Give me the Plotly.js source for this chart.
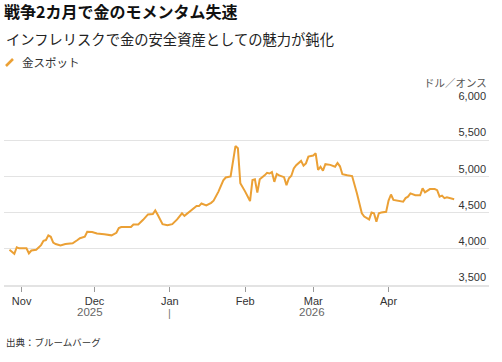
<!DOCTYPE html>
<html>
<head>
<meta charset="utf-8">
<script src="https://cdn.plot.ly/plotly-3.0.1.min.js"></script>
<style>html,body{margin:0;padding:0;background:#fff}#chart{width:502px;height:362px}</style>
</head>
<body>
<div id="chart"></div>
<script>
const titleText = "戦争2カ月で金のモメンタム失速";
const subtitleText = "インフレリスクで金の安全資産としての魅力が鈍化";
const seriesName = "金スポット";
const unitLabel = "ドル／オンス";
const sourceText = "出典：ブルームバーグ";

const dates = [
"2025-10-27","2025-10-29","2025-10-30","2025-10-31","2025-11-03","2025-11-04","2025-11-05","2025-11-07",
"2025-11-09","2025-11-10","2025-11-11","2025-11-12","2025-11-13","2025-11-14","2025-11-15","2025-11-17",
"2025-11-19","2025-11-20","2025-11-22","2025-11-24","2025-11-25","2025-11-27","2025-11-28","2025-11-30",
"2025-12-02","2025-12-05","2025-12-08","2025-12-10","2025-12-11","2025-12-12","2025-12-16","2025-12-17",
"2025-12-19","2025-12-21","2025-12-23","2025-12-25","2025-12-26","2025-12-27","2025-12-29","2025-12-31",
"2026-01-02","2026-01-04","2026-01-06","2026-01-07","2026-01-09","2026-01-12","2026-01-13","2026-01-14",
"2026-01-16","2026-01-18","2026-01-19","2026-01-21","2026-01-23","2026-01-24","2026-01-26","2026-01-28",
"2026-01-29","2026-01-30","2026-02-01","2026-02-03","2026-02-04","2026-02-05","2026-02-06","2026-02-07",
"2026-02-09","2026-02-10","2026-02-11","2026-02-12","2026-02-13","2026-02-14","2026-02-15","2026-02-17",
"2026-02-18","2026-02-19","2026-02-20","2026-02-21","2026-02-22","2026-02-24","2026-02-25","2026-02-26",
"2026-02-27","2026-03-01","2026-03-02","2026-03-03","2026-03-04","2026-03-05","2026-03-06","2026-03-08",
"2026-03-10","2026-03-11","2026-03-12","2026-03-13","2026-03-15","2026-03-17","2026-03-19","2026-03-21",
"2026-03-22","2026-03-24","2026-03-25","2026-03-26","2026-03-27","2026-03-28","2026-03-29","2026-03-31",
"2026-04-01","2026-04-02","2026-04-03","2026-04-05","2026-04-07","2026-04-08","2026-04-09","2026-04-10",
"2026-04-12","2026-04-14","2026-04-15","2026-04-16","2026-04-18","2026-04-20","2026-04-21","2026-04-22",
"2026-04-23","2026-04-24","2026-04-25","2026-04-28"
];
const goldSpot = [
3985,3930,4020,4005,4005,3935,3975,3985,
4050,4110,4120,4185,4165,4085,4065,4045,
4065,4065,4075,4120,4145,4165,4235,4230,
4210,4200,4185,4220,4285,4300,4300,4335,
4335,4400,4475,4480,4530,4470,4340,4325,
4340,4405,4490,4455,4510,4590,4590,4625,
4600,4635,4665,4790,4945,4985,5000,5420,
5390,4905,4790,4660,4950,4960,4775,4960,
5015,5050,5040,5060,4925,5035,5015,4990,
4880,4975,5010,5110,5155,5215,5150,5180,
5275,5290,5320,5090,5135,5080,5170,5160,
5135,5185,5140,5030,5015,5005,4765,4490,
4445,4405,4500,4490,4375,4490,4500,4510,
4665,4750,4675,4665,4650,4700,4720,4765,
4740,4740,4835,4780,4825,4825,4810,4720,
4735,4700,4710,4685
];
const monthTickVals = ["2025-11-01","2025-12-01","2026-01-01","2026-02-01","2026-03-01","2026-04-01"];
const monthTickText = ["Nov","Dec","Jan","Feb","Mar","Apr"];
const yTickVals = [3500,4000,4500,5000,5500,6000];
const yTickText = ["3,500","4,000","4,500","5,000","5,500","6,000"];
const yearLabels = ["2025","2026"];
const yearBoundary = "2026-01-01";

const LINE = "#EBA035";
const FONT = "Liberation Sans, Arial, Noto Sans CJK JP, sans-serif";
const JP = "Noto Sans CJK JP, Liberation Sans, sans-serif";

function mid(a, b) {
  const t = (new Date(a + "T00:00:00Z").getTime() + new Date(b + "T00:00:00Z").getTime()) / 2;
  return new Date(t).toISOString().slice(0, 19).replace("T", " ");
}

const trace = {
  x: dates, y: goldSpot, type: "scatter", mode: "lines", name: seriesName,
  line: {color: LINE, width: 2}, showlegend: false, hoverinfo: "x+y"
};

const layout = {
  width: 502, height: 362,
  margin: {l: 4, r: 13, t: 104, b: 77, pad: 0},
  paper_bgcolor: "#fff", plot_bgcolor: "#fff",
  font: {family: FONT, size: 11, color: "#333"},
  title: {
    text: "<b>" + titleText + "</b>",
    font: {family: JP, size: 16, color: "#111"},
    x: 4 / 502, xref: "container", xanchor: "left",
    y: 1 - 12 / 362, yref: "container", yanchor: "middle"
  },
  xaxis: {
    type: "date",
    range: ["2025-10-24 18:00", "2026-05-12 08:00"],
    tickvals: monthTickVals, ticktext: monthTickText,
    ticks: "outside", ticklen: 5, tickwidth: 1, tickcolor: "#999",
    showgrid: false, zeroline: false,
    showline: true, linecolor: "#e3e3e3", linewidth: 1.5,
    tickfont: {family: FONT, size: 11, color: "#333"},
    fixedrange: true
  },
  yaxis: {
    range: [3498, 6002], side: "right",
    tickvals: yTickVals, ticktext: yTickText,
    ticklabelposition: "inside top", ticklabeloverflow: "allow",
    ticks: "", showgrid: true, gridcolor: "#e3e3e3", gridwidth: 1.5,
    zeroline: false, showline: false,
    tickfont: {family: FONT, size: 11, color: "#333"},
    fixedrange: true
  },
  shapes: [
    {type: "line", xref: "paper", yref: "paper",
     x0: 1 / 485 + 0.002, x1: 8 / 485 + 0.002,
     y0: (285 - 66) / 181, y1: (285 - 59) / 181,
     line: {color: LINE, width: 2.5}}
  ],
  annotations: [
    {text: subtitleText, xref: "paper", yref: "paper", x: 0, xanchor: "left",
     y: (285 - 38) / 181, yanchor: "middle", showarrow: false,
     font: {family: JP, size: 14.3, color: "#222"}},
    {text: seriesName, xref: "paper", yref: "paper", x: 16 / 485, xanchor: "left",
     y: (285 - 62) / 181, yanchor: "middle", showarrow: false,
     font: {family: JP, size: 11.5, color: "#333"}},
    {text: unitLabel, xref: "paper", yref: "paper", x: 1, xanchor: "right",
     y: (285 - 82) / 181, yanchor: "middle", showarrow: false,
     font: {family: JP, size: 10.5, color: "#555"}},
    {text: yearLabels[0], xref: "x", yref: "paper", x: mid(dates[0], yearBoundary), xanchor: "center",
     y: (285 - 312) / 181, yanchor: "middle", showarrow: false,
     font: {family: FONT, size: 11.5, color: "#666"}},
    {text: "|", xref: "x", yref: "paper", x: yearBoundary, xanchor: "center",
     y: (285 - 313) / 181, yanchor: "middle", showarrow: false,
     font: {family: FONT, size: 11, color: "#777"}},
    {text: yearLabels[1], xref: "x", yref: "paper", x: mid(yearBoundary, dates[dates.length - 1]), xanchor: "center",
     y: (285 - 312) / 181, yanchor: "middle", showarrow: false,
     font: {family: FONT, size: 11.5, color: "#666"}},
    {text: sourceText, xref: "paper", yref: "paper", x: 0, xanchor: "left",
     y: (285 - 342) / 181, yanchor: "middle", showarrow: false,
     font: {family: JP, size: 9.5, color: "#333"}}
  ]
};

Plotly.newPlot("chart", [trace], layout, {displayModeBar: false, staticPlot: true});
</script>
</body>
</html>
